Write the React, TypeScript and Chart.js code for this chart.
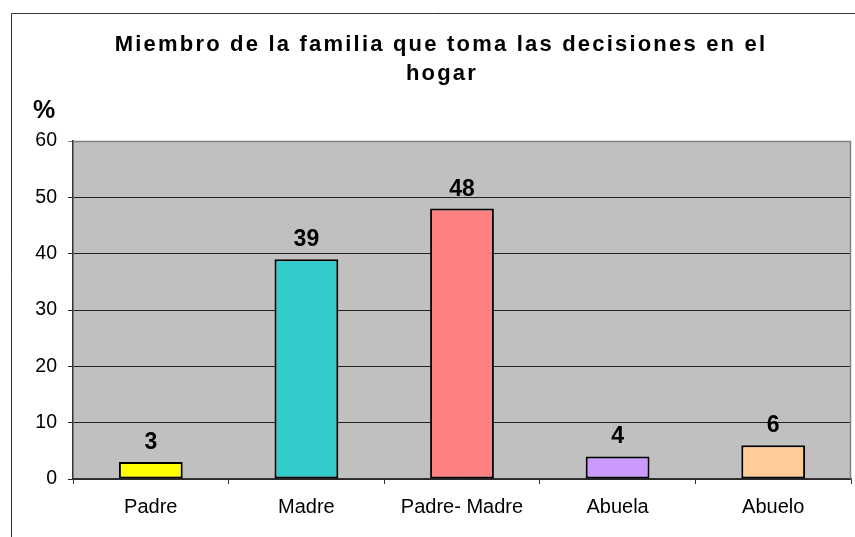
import React, { useEffect, useRef } from "react";
import { Chart, registerables } from "chart.js";

Chart.register(...registerables);

const titleLines = ["Miembro de la familia que toma las decisiones en el", "hogar"];
const yAxisLabel = "%";
const categories = ["Padre", "Madre", "Padre- Madre", "Abuela", "Abuelo"];
const values = [3, 39, 48, 4, 6];
const barColors = ["#FFFF00", "#33CCCC", "#FF8080", "#CC99FF", "#FFCC99"];
const yMin = 0;
const yMax = 60;
const yStep = 10;

const FONT = "'Liberation Sans', Arial, sans-serif";

const decorPlugin = {
  id: "decor",
  beforeDraw(chart: any) {
    const { ctx, chartArea } = chart;
    const { left, top, right, bottom } = chartArea;
    ctx.save();
    ctx.fillStyle = "#ffffff";
    ctx.fillRect(0, 0, chart.width, chart.height);
    // outer frame (top and left visible)
    ctx.strokeStyle = "#333333";
    ctx.lineWidth = 1;
    ctx.beginPath();
    ctx.moveTo(11.5, chart.height);
    ctx.lineTo(11.5, 13.5);
    ctx.lineTo(chart.width, 13.5);
    ctx.stroke();
    // plot area
    ctx.fillStyle = "#C0C0C0";
    ctx.fillRect(left, top, right - left, bottom - top);
    ctx.restore();
  },
  afterDatasetsDraw(chart: any) {
    const { ctx, chartArea } = chart;
    const { left, top, right, bottom } = chartArea;
    ctx.save();
    // plot border top/right
    ctx.strokeStyle = "#808080";
    ctx.lineWidth = 1.5;
    ctx.beginPath();
    ctx.moveTo(left, top + 0.5);
    ctx.lineTo(right - 0.5, top + 0.5);
    ctx.lineTo(right - 0.5, bottom);
    ctx.stroke();
    // value labels
    const meta = chart.getDatasetMeta(0);
    ctx.fillStyle = "#000000";
    ctx.font = `bold 23px ${FONT}`;
    ctx.textAlign = "center";
    ctx.textBaseline = "alphabetic";
    meta.data.forEach((bar: any, i: number) => {
      ctx.fillText(String(values[i]), bar.x, bar.y - 13);
    });
    // title
    ctx.font = `bold 22px ${FONT}`;
    (ctx as any).letterSpacing = "2.2px";
    ctx.fillText(titleLines[0], 441, 51);
    ctx.fillText(titleLines[1], 442, 80);
    (ctx as any).letterSpacing = "0px";
    // % label
    ctx.font = `bold 25px ${FONT}`;
    ctx.fillText(yAxisLabel, 44, 118);
    ctx.restore();
  },
};

export default function App() {
  const ref = useRef<HTMLCanvasElement>(null);
  useEffect(() => {
    if (!ref.current) return;
    const chart = new Chart(ref.current, {
      type: "bar",
      data: {
        labels: categories,
        datasets: [
          {
            data: values,
            backgroundColor: barColors,
            borderColor: "#000000",
            borderWidth: 2,
            borderSkipped: false,
            barPercentage: 0.41,
            categoryPercentage: 1,
          },
        ],
      },
      options: {
        responsive: false,
        animation: false,
        layout: { padding: { left: 0, top: 141, right: 4, bottom: 0 } },
        plugins: {
          legend: { display: false },
          tooltip: { enabled: false },
          title: { display: false },
        },
        scales: {
          x: {
            offset: true,
            grid: {
              offset: true,
              drawOnChartArea: false,
              drawTicks: true,
              tickLength: 5,
              color: "#333333",
            },
            border: { display: true, color: "#333333", width: 1.5 },
            ticks: {
              color: "#000000",
              font: { family: FONT, size: 20 },
              padding: 11,
              maxRotation: 0,
              autoSkip: false,
            },
            afterFit(scale: any) {
              scale.height = 58;
            },
          },
          y: {
            min: yMin,
            max: yMax,
            ticks: {
              stepSize: yStep,
              color: "#000000",
              font: { family: FONT, size: 19.5 },
              padding: 11,
            },
            grid: {
              color: (c: any) => (c.tick && c.tick.value === yMax ? "#808080" : "#222222"),
              lineWidth: 1,
              tickLength: 5,
              drawTicks: true,
            },
            border: { display: true, color: "#333333", width: 1.5 },
            afterFit(scale: any) {
              scale.width = 73;
            },
          },
        },
      },
      plugins: [decorPlugin],
    });
    return () => chart.destroy();
  }, []);
  return (
    <div style={{ position: "fixed", left: 0, top: 0, width: 855, height: 537, background: "#fff" }}>
      <canvas ref={ref} width={855} height={537} style={{ width: 855, height: 537, display: "block" }} />
    </div>
  );
}
